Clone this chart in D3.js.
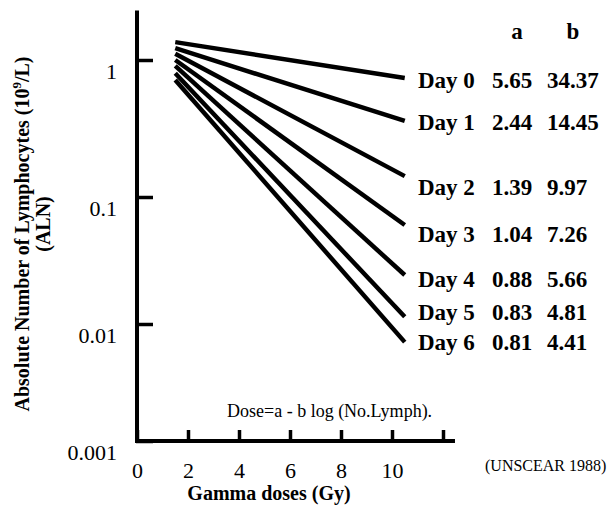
<!DOCTYPE html>
<html>
<head>
<meta charset="utf-8">
<script src="https://cdn.jsdelivr.net/npm/d3@7"></script>
<style>
  body { margin: 0; background: #fff; }
  svg, svg text { font-family: "Liberation Serif", "Times New Roman", Times, "DejaVu Serif", serif; }
  svg { display: block; }
</style>
</head>
<body>
<svg id="chart" width="610" height="506"></svg>
<script>
// days with the fitted constants of Dose = a - b log(ALN)
const days = ["Day 0", "Day 1", "Day 2", "Day 3", "Day 4", "Day 5", "Day 6"];
const aVals = ["5.65", "2.44", "1.39", "1.04", "0.88", "0.83", "0.81"];
const bVals = ["34.37", "14.45", "9.97", "7.26", "5.66", "4.81", "4.41"];
// line end points (dose in Gy, ALN in 10^9/L)
const doseStart = 1.5, doseEnd = 10.5;
const alnStart = [1.35, 1.22, 1.11, 1.0, 0.905, 0.80, 0.715];
const alnEnd = [0.739, 0.359, 0.142, 0.0602, 0.0243, 0.0114, 0.0070];
const yTicks = [1, 0.1, 0.01, 0.001];
const xTicks = [0, 2, 4, 6, 8, 10, 12];

const svg = d3.select("#chart");

// hand-drawn log axis, decades are not quite equal
const y = d3.scaleLog().domain([0.001, 0.01, 0.1, 1]).range([441, 324, 197, 60]);
const x = d3.scaleLinear().domain([0, 12]).range([137, 443]);
const yMax = 2.3, xMax = 12.47;

// axes
const gy = svg.append("g").attr("transform", "translate(137,0)")
  .call(d3.axisLeft(y).tickValues(yTicks).tickFormat(d => d3.format("~g")(d))
    .tickSizeInner(-17).tickSizeOuter(0).tickPadding(20));
gy.attr("font-family", null);
gy.select(".domain").remove();
gy.selectAll(".tick line").attr("stroke", "#000").attr("stroke-width", 3.5)
  .attr("transform", "translate(-1,0)");
gy.selectAll(".tick text").attr("font-size", 22).attr("dy", 18);

const gx = svg.append("g").attr("transform", "translate(0,442)")
  .call(d3.axisBottom(x).tickValues(xTicks).tickFormat(d => d === 12 ? "" : d)
    .tickSizeInner(-12).tickSizeOuter(0).tickPadding(20));
gx.attr("font-family", null);
gx.select(".domain").remove();
gx.selectAll(".tick line").attr("stroke", "#000").attr("stroke-width", 3.5);
gx.selectAll(".tick text").attr("font-size", 22);

svg.append("line")
  .attr("x1", x(0)).attr("x2", x(0)).attr("y1", y(0.001) + 2).attr("y2", y(yMax))
  .attr("stroke", "#000").attr("stroke-width", 4);
svg.append("line")
  .attr("x1", x(0) - 2).attr("x2", x(xMax)).attr("y1", y(0.001)).attr("y2", y(0.001))
  .attr("stroke", "#000").attr("stroke-width", 4);

// regression lines
const lines = days.map((d, i) => [[doseStart, alnStart[i]], [doseEnd, alnEnd[i]]]);
svg.append("g").selectAll("path").data(lines).enter().append("path")
  .attr("d", d3.line().x(p => x(p[0])).y(p => y(p[1])))
  .attr("fill", "none").attr("stroke", "#000").attr("stroke-width", 4.5);

// table of a, b next to the line ends
const labelNudge = [10, 9, 19, 17, 12, 3, 8];
const table = svg.append("g").attr("font-weight", "bold").attr("font-size", 23);
table.append("text").attr("x", 517).attr("y", 39).attr("text-anchor", "middle").text("a");
table.append("text").attr("x", 573).attr("y", 39).attr("text-anchor", "middle").text("b");
const rows = table.selectAll("g.row").data(days).enter().append("g").attr("class", "row")
  .attr("transform", (d, i) => `translate(0,${y(alnEnd[i]) + labelNudge[i]})`);
rows.append("text").attr("x", 418).text(d => d);
rows.append("text").attr("x", 492).text((d, i) => aVals[i]);
rows.append("text").attr("x", 547).text((d, i) => bVals[i]);

// formula and source
svg.append("text").attr("x", 227).attr("y", 417).attr("font-size", 18)
  .text("Dose=a - b log (No.Lymph).");
svg.append("text").attr("x", 485).attr("y", 471).attr("font-size", 16)
  .text("(UNSCEAR 1988)");

// axis titles
svg.append("text").attr("x", 269).attr("y", 500).attr("text-anchor", "middle")
  .attr("font-weight", "bold").attr("font-size", 20).text("Gamma doses (Gy)");

const yt = svg.append("text").attr("transform", "translate(29,234) rotate(-90)")
  .attr("text-anchor", "middle").attr("font-weight", "bold").attr("font-size", 20);
yt.append("tspan").text("Absolute Number of Lymphocytes (10");
yt.append("tspan").attr("font-size", 13).attr("dy", -8).text("9");
yt.append("tspan").attr("dy", 8).text("/L)");
svg.append("text").attr("transform", "translate(50,224) rotate(-90)")
  .attr("text-anchor", "middle").attr("font-weight", "bold").attr("font-size", 20)
  .text("(ALN)");
</script>
</body>
</html>
